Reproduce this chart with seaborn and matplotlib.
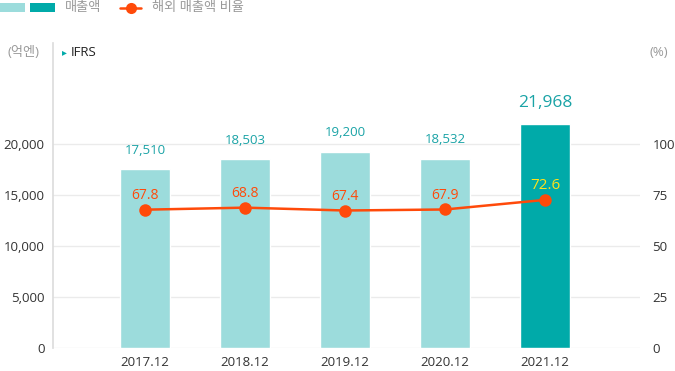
import numpy as np
import pandas as pd
import seaborn as sns
import matplotlib.pyplot as plt
from matplotlib.patches import Rectangle
from matplotlib.lines import Line2D

# data
years = ['2017.12', '2018.12', '2019.12', '2020.12', '2021.12']
sales = [17510, 18503, 19200, 18532, 21968]
overseas_ratio = [67.8, 68.8, 67.4, 67.9, 72.6]
left_ticks = [0, 5000, 10000, 15000, 20000]
right_ticks = [0, 25, 50, 75, 100]

light = '#9cdcdc'
dark = '#00aaa9'
orange = '#ff4a0a'
teal_txt = '#1aa3a6'
gray_txt = '#999999'

sns.set_theme(style='white')
plt.rcParams['font.family'] = ['Open Sans', 'Noto Sans CJK KR', 'DejaVu Sans']

df = pd.DataFrame({'year': years, 'sales': sales, 'ratio': overseas_ratio})

fig = plt.figure(figsize=(6.75, 3.71), dpi=100)
W, H = 675, 371
top_px, bot_px = 43, 348
ax = fig.add_axes([53 / W, (H - bot_px) / H, (640 - 53) / W, (bot_px - top_px) / H])

colors = [light] * (len(years) - 1) + [dark]
sns.barplot(data=df, x='year', y='sales', hue='year', palette=colors,
            legend=False, width=0.5, ax=ax, saturation=1)

ymax = (bot_px - top_px) / 204 * 20000
ax.set_ylim(0, ymax)
ax.set_xlim(-0.92, 4.95)
ax.set_yticks(left_ticks)
ax.set_yticklabels([f'{v:,}' for v in left_ticks], fontsize=9.5, color='#333333')
ax.set_xticks(range(len(years)))
ax.set_xticklabels(years, fontsize=9.5, color='#333333')
ax.set_xlabel('')
ax.set_ylabel('')
ax.yaxis.grid(True, color='#ebebeb', linewidth=1)
ax.set_axisbelow(True)
for s in ['top', 'right', 'bottom']:
    ax.spines[s].set_visible(False)
ax.spines['left'].set_color('#dddddd')
ax.tick_params(axis='both', length=0, pad=6)

# bar value labels
for i, v in enumerate(sales):
    last = i == len(sales) - 1
    ax.text(i, v + (1300 if last else 1250), f'{v:,}',
            ha='center', va='bottom', color=teal_txt,
            fontsize=12.5 if last else 9.5)

# overseas ratio line
ax2 = ax.twinx()
sns.lineplot(x=np.arange(len(years)), y=overseas_ratio, ax=ax2, color=orange,
             linewidth=1.8, marker='o', markersize=9, markeredgewidth=0)
ax2.set_ylim(0, ymax / 200)
ax2.set_yticks(right_ticks)
ax2.set_yticklabels([str(v) for v in right_ticks], fontsize=9.5, color='#333333')
ax2.tick_params(axis='y', length=0, pad=9)
for s in ax2.spines.values():
    s.set_visible(False)
ax2.grid(False)
for i, v in enumerate(overseas_ratio):
    last = i == len(overseas_ratio) - 1
    ax2.text(i, v + 3.4, f'{v}', ha='center', va='bottom',
             color='#ffe21a' if last else orange,
             fontsize=11 if last else 10)

# header: legend and unit labels
fig.add_artist(Rectangle((0, 1 - 12 / H), 25 / W, 9 / H, transform=fig.transFigure,
                         color=light, lw=0))
fig.add_artist(Rectangle((30 / W, 1 - 12 / H), 25 / W, 9 / H, transform=fig.transFigure,
                         color=dark, lw=0))
fig.text(65 / W, 1 - 8 / H, '매출액', fontsize=9.5, color=gray_txt, va='center')
fig.add_artist(Line2D([120 / W, 141 / W], [1 - 8 / H] * 2, transform=fig.transFigure,
                      color=orange, lw=1.8))
fig.add_artist(Line2D([130.5 / W], [1 - 8 / H], transform=fig.transFigure,
                      color=orange, marker='o', markersize=8, markeredgewidth=0))
fig.text(152 / W, 1 - 8 / H, '해외 매출액 비율', fontsize=9.5, color=gray_txt, va='center')

fig.text(8 / W, 1 - 52 / H, '(억엔)', fontsize=9.5, color=gray_txt, va='center')
fig.text(62 / W, 1 - 52 / H, '▸', fontsize=7, color=dark, va='center',
         family='DejaVu Sans')
fig.text(71 / W, 1 - 52 / H, 'IFRS', fontsize=9.5, color='#222222', va='center')
fig.text(649 / W, 1 - 52 / H, '(%)', fontsize=9.5, color=gray_txt, va='center')

fig.savefig('out.png', dpi=100)
